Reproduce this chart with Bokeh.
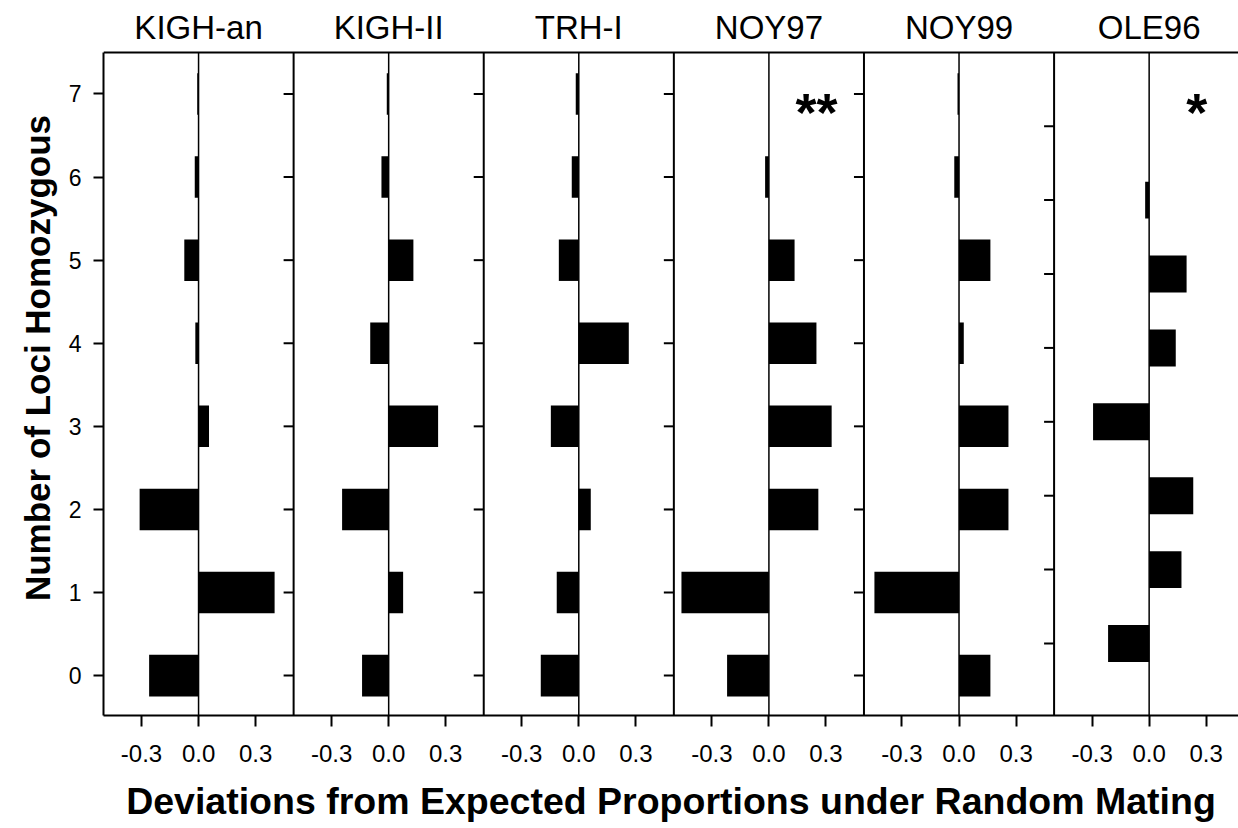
from bokeh.plotting import figure
from bokeh.models import Range1d, FixedTicker
from bokeh.core.properties import value
from bokeh.embed import file_html
from bokeh.resources import INLINE

# ---------------- data ----------------
panels = ["KIGH-an", "KIGH-II", "TRH-I", "NOY97", "NOY99", "OLE96"]
loci = [0, 1, 2, 3, 4, 5, 6, 7]
kigh_an = [-0.26, 0.40, -0.31, 0.055, -0.017, -0.075, -0.02, -0.007]
kigh_ii = [-0.14, 0.076, -0.245, 0.26, -0.097, 0.13, -0.038, -0.01]
trh_i = [-0.20, -0.116, 0.063, -0.147, 0.263, -0.105, -0.037, -0.016]
noy97 = [-0.22, -0.46, 0.26, 0.33, 0.25, 0.135, -0.02, 0.0]
noy99 = [0.165, -0.445, 0.26, 0.26, 0.025, 0.165, -0.025, -0.008]
ole96 = [-0.216, 0.17, 0.232, -0.295, 0.14, 0.197, -0.021, 0.0]
significance = ["", "", "", "**", "", "*"]
x_ticks = [-0.3, 0.0, 0.3]
x_tick_labels = ["-0.3", "0.0", "0.3"]
y_ticks = [0, 1, 2, 3, 4, 5, 6, 7]

series = [kigh_an, kigh_ii, trh_i, noy97, noy99, ole96]

# ---------------- layout constants ----------------
FONT = "Liberation Sans"
HALF = 0.5            # half panel width in data units
Y_LO, Y_TOP_BORDER = -0.48, 7.5
TITLE_Y = 7.80
SIG_X, SIG_Y = 0.25, 6.78
TICK_LEN = 10 / 190.0

p = figure(width=1238, height=828, output_backend="svg", toolbar_location=None,
           x_range=Range1d(-0.5, 5.47), y_range=Range1d(Y_LO, 8.125),
           min_border_left=103, min_border_right=0, min_border_top=0,
           min_border_bottom=113)
p.extra_y_ranges = {"ole": Range1d(-0.974, 8.701)}
p.outline_line_color = None
p.xgrid.visible = False
p.ygrid.visible = False
p.background_fill_color = "white"
p.border_fill_color = "white"

# axes
xt = []
overrides = {}
for i in range(len(panels)):
    for t, lab in zip(x_ticks, x_tick_labels):
        v = round(i + t, 2)
        xt.append(v)
        overrides[v] = lab
p.xaxis.ticker = FixedTicker(ticks=xt)
p.xaxis.major_label_overrides = overrides
p.yaxis.ticker = FixedTicker(ticks=y_ticks)
p.yaxis.bounds = (Y_LO, Y_TOP_BORDER)
for ax in (p.xaxis, p.yaxis):
    ax.axis_line_width = 2
    ax.major_tick_line_width = 2
    ax.major_tick_in = 0
    ax.minor_tick_line_color = None
    ax.major_label_text_font = FONT
    ax.major_label_text_color = "black"
    ax.axis_label_text_font = FONT
    ax.axis_label_text_font_style = "bold"
    ax.axis_label_text_color = "black"
p.xaxis.major_tick_out = 11
p.yaxis.major_tick_out = 10
p.xaxis.major_label_text_font_size = "24px"
p.yaxis.major_label_text_font_size = "23px"
p.xaxis.major_label_standoff = 18
p.yaxis.major_label_standoff = 12
p.xaxis.axis_label = "Deviations from Expected Proportions under Random Mating"
p.yaxis.axis_label = "Number of Loci Homozygous"
p.xaxis.axis_label_text_font_size = "37.5px"
p.yaxis.axis_label_text_font_size = "35px"
p.xaxis.axis_label_standoff = 15
p.yaxis.axis_label_standoff = 9

n = len(panels)
offsets = [float(i) for i in range(n)]

# top border
p.segment(x0=[-0.5], x1=[5.47], y0=[Y_TOP_BORDER], y1=[Y_TOP_BORDER],
          line_color="black", line_width=2)
# panel separators
seps = [o + HALF for o in offsets[:-1]]
p.segment(x0=seps, x1=seps, y0=[Y_LO] * len(seps), y1=[Y_TOP_BORDER] * len(seps),
          line_color="black", line_width=2)
# zero lines
p.segment(x0=offsets, x1=offsets, y0=[Y_LO] * n, y1=[Y_TOP_BORDER] * n,
          line_color="black", line_width=1.5)

# left ticks of inner panels 2-5
for s in seps[:-1]:
    p.segment(x0=[s - TICK_LEN] * len(y_ticks), x1=[s] * len(y_ticks),
              y0=y_ticks, y1=y_ticks, line_color="black", line_width=2)
# ticks of OLE96 panel (own scale)
s = seps[-1]
p.segment(x0=[s - TICK_LEN] * len(loci), x1=[s] * len(loci),
          y0=loci, y1=loci, line_color="black", line_width=2, y_range_name="ole")

# bars
for i, vals in enumerate(series):
    o = offsets[i]
    kw = {"y_range_name": "ole"} if panels[i] == "OLE96" else {}
    p.hbar(y=loci, left=[o] * len(vals), right=[o + v for v in vals], height=0.5,
           fill_color="black", line_color=None, **kw)

# panel titles
p.text(x=offsets, y=[TITLE_Y] * n, text=panels, text_align="center",
       text_baseline="alphabetic", text_font=value(FONT), text_font_size="33px",
       text_color="black")

# significance marks
sx = [o + SIG_X for o, s_ in zip(offsets, significance) if s_]
st = [s_ for s_ in significance if s_]
p.text(x=sx, y=[SIG_Y] * len(sx), text=st, text_align="center",
       text_baseline="middle", text_font=value(FONT), text_font_size="54px",
       text_font_style="bold", text_color="black")

open("out.html", "w").write(file_html(p, INLINE))
